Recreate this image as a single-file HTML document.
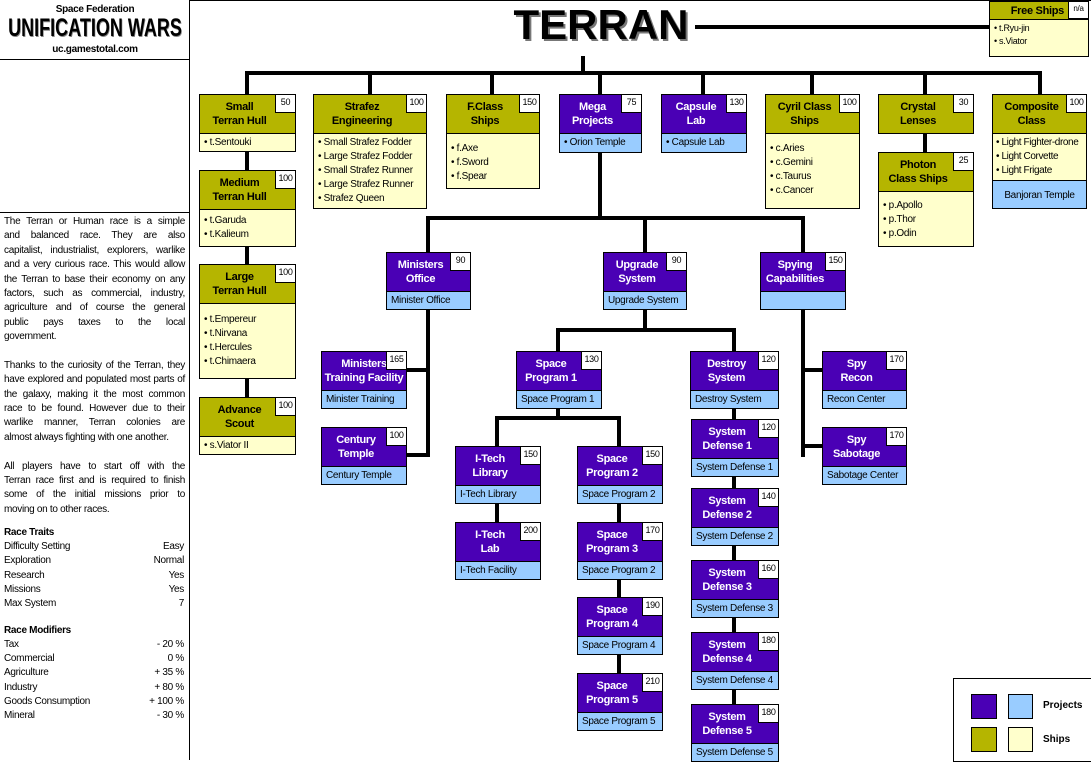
<!DOCTYPE html>
<html><head><meta charset="utf-8"><style>
*{margin:0;padding:0;box-sizing:border-box}
body{width:1091px;height:760px;position:relative;background:#fff;font-family:"Liberation Sans",Arial,sans-serif;overflow:hidden;color:#000}
.a{position:absolute}
.l{position:absolute;background:#000}
.n{position:absolute;border:1px solid #000}
.n.s{background:#ffffcc}
.n.p{background:#99ccff}
.h{position:relative;display:flex;align-items:center;justify-content:center;text-align:center;font-weight:bold;font-size:11px;line-height:14px;letter-spacing:-0.3px;padding-right:16px;border-bottom:1px solid #000}
.p .h{background:#4a00b5;color:#fff}
.s .h{background:#b5b500;color:#000}
.num{position:absolute;right:0;top:0;width:20px;height:18px;background:#fff;color:#000;border-left:1px solid #000;border-bottom:1px solid #000;font-size:9px;font-weight:normal;text-align:center;line-height:14px;padding:0}
.b{font-size:10px;line-height:14px;padding:2px 4px;letter-spacing:-0.3px}
.bl{background:#99ccff!important}
.row{position:absolute;left:4px;width:180px;font-size:10px;letter-spacing:-0.3px;height:14px;line-height:14px}
.row span{position:absolute;right:0}
.par{position:absolute;left:4px;top:215px;width:181px;font-size:10px;letter-spacing:-0.3px;line-height:14.4px}
.par div{text-align:justify;text-align-last:justify;white-space:nowrap;height:14.4px}
.par div.e{text-align-last:left}
</style></head><body>
<!-- left panel -->
<div class="l" style="left:189px;top:0;width:1px;height:760px"></div>
<div class="l" style="left:0;top:59px;width:190px;height:1px"></div>
<div class="l" style="left:0;top:212px;width:190px;height:1px"></div>
<div class="l" style="left:190px;top:0;width:901px;height:1px"></div>
<div class="a" style="left:0;top:4px;width:190px;text-align:center;font-size:10px;font-weight:bold;letter-spacing:-0.3px">Space Federation</div>
<div class="a" style="left:-30px;top:14px;width:250px;text-align:center;font-size:25px;font-weight:bold;transform:scaleX(0.72);text-shadow:1px 1px 0 #888">UNIFICATION WARS</div>
<div class="a" style="left:0;top:44px;width:190px;text-align:center;font-size:10px;font-weight:bold;letter-spacing:-0.3px">uc.gamestotal.com</div>
<div class="par">
<div>The Terran or Human race is a simple</div>
<div>and balanced race. They are also</div>
<div>capitalist, industrialist, explorers, warlike</div>
<div>and a very curious race. This would allow</div>
<div>the Terran to base their economy on any</div>
<div>factors, such as commercial, industry,</div>
<div>agriculture and of course the general</div>
<div>public pays taxes to the local</div>
<div class="e">government.</div>
<div class="e"></div>
<div>Thanks to the curiosity of the Terran, they</div>
<div>have explored and populated most parts of</div>
<div>the galaxy, making it the most common</div>
<div>race to be found. However due to their</div>
<div>warlike manner, Terran colonies are</div>
<div class="e">almost always fighting with one another.</div>
<div class="e"></div>
<div>All players have to start off with the</div>
<div>Terran race first and is required to finish</div>
<div>some of the initial missions prior to</div>
<div class="e">moving on to other races.</div>
</div>
<div class="row" style="top:526px;font-weight:bold">Race Traits</div>
<div class="row" style="top:540px">Difficulty Setting<span>Easy</span></div>
<div class="row" style="top:554px">Exploration<span>Normal</span></div>
<div class="row" style="top:569px">Research<span>Yes</span></div>
<div class="row" style="top:583px">Missions<span>Yes</span></div>
<div class="row" style="top:597px">Max System<span>7</span></div>
<div class="row" style="top:624px;font-weight:bold">Race Modifiers</div>
<div class="row" style="top:638px">Tax<span>- 20 %</span></div>
<div class="row" style="top:652px">Commercial<span>0 %</span></div>
<div class="row" style="top:666px">Agriculture<span>+ 35 %</span></div>
<div class="row" style="top:681px">Industry<span>+ 80 %</span></div>
<div class="row" style="top:695px">Goods Consumption<span>+ 100 %</span></div>
<div class="row" style="top:709px">Mineral<span>- 30 %</span></div>

<!-- title -->
<div class="a" style="left:505px;top:1px;width:192px;text-align:center;font-size:42px;font-weight:bold;letter-spacing:0px;text-shadow:2px 2px 0 #777">TERRAN</div>

<!-- connectors -->
<div class="l" style="left:695px;top:25px;width:294px;height:4px"></div>
<div class="l" style="left:581px;top:56px;width:4px;height:19px"></div>
<div class="l" style="left:245px;top:71px;width:797px;height:4px"></div>
<div class="l" style="left:245px;top:71px;width:4px;height:24px"></div>
<div class="l" style="left:368px;top:71px;width:4px;height:24px"></div>
<div class="l" style="left:490px;top:71px;width:4px;height:24px"></div>
<div class="l" style="left:598px;top:71px;width:4px;height:24px"></div>
<div class="l" style="left:701px;top:71px;width:4px;height:24px"></div>
<div class="l" style="left:810px;top:71px;width:4px;height:24px"></div>
<div class="l" style="left:923px;top:71px;width:4px;height:24px"></div>
<div class="l" style="left:1038px;top:71px;width:4px;height:24px"></div>
<div class="l" style="left:245px;top:150px;width:4px;height:248px"></div>
<div class="l" style="left:923px;top:132px;width:4px;height:21px"></div>
<div class="l" style="left:598px;top:151px;width:4px;height:69px"></div>
<div class="l" style="left:426px;top:216px;width:379px;height:4px"></div>
<div class="l" style="left:426px;top:216px;width:4px;height:37px"></div>
<div class="l" style="left:643px;top:216px;width:4px;height:37px"></div>
<div class="l" style="left:801px;top:216px;width:4px;height:37px"></div>
<div class="l" style="left:426px;top:308px;width:4px;height:149px"></div>
<div class="l" style="left:405px;top:368px;width:24px;height:4px"></div>
<div class="l" style="left:405px;top:453px;width:24px;height:4px"></div>
<div class="l" style="left:643px;top:308px;width:4px;height:24px"></div>
<div class="l" style="left:556px;top:328px;width:180px;height:4px"></div>
<div class="l" style="left:556px;top:328px;width:4px;height:24px"></div>
<div class="l" style="left:732px;top:328px;width:4px;height:24px"></div>
<div class="l" style="left:801px;top:308px;width:4px;height:149px"></div>
<div class="l" style="left:801px;top:368px;width:22px;height:4px"></div>
<div class="l" style="left:801px;top:444px;width:22px;height:4px"></div>
<div class="l" style="left:556px;top:407px;width:4px;height:12px"></div>
<div class="l" style="left:495px;top:416px;width:126px;height:4px"></div>
<div class="l" style="left:495px;top:416px;width:4px;height:31px"></div>
<div class="l" style="left:617px;top:416px;width:4px;height:31px"></div>
<div class="l" style="left:495px;top:502px;width:4px;height:21px"></div>
<div class="l" style="left:617px;top:502px;width:4px;height:172px"></div>
<div class="l" style="left:732px;top:407px;width:4px;height:300px"></div>

<!-- Free ships -->
<div class="n s" style="left:989px;top:1px;width:100px;height:56px"><div class="h" style="height:18px;justify-content:flex-end;padding-right:24px">Free Ships<div class="num" style="height:17px;font-size:8px">n/a</div></div><div class="b" style="font-size:9px;line-height:13px">• t.Ryu-jin<br>• s.Viator</div></div>

<!-- row 1 -->
<div class="n s" style="left:199px;top:94px;width:97px;height:58px"><div class="h" style="height:39px">Small<br>Terran Hull<div class="num">50</div></div><div class="b">• t.Sentouki</div></div>
<div class="n s" style="left:313px;top:94px;width:114px;height:115px"><div class="h" style="height:39px">Strafez<br>Engineering<div class="num">100</div></div><div class="b">• Small Strafez Fodder<br>• Large Strafez Fodder<br>• Small Strafez Runner<br>• Large Strafez Runner<br>• Strafez Queen</div></div>
<div class="n s" style="left:446px;top:94px;width:94px;height:95px"><div class="h" style="height:39px">F.Class<br>Ships<div class="num">150</div></div><div class="b" style="padding-top:8px">• f.Axe<br>• f.Sword<br>• f.Spear</div></div>
<div class="n p" style="left:559px;top:94px;width:83px;height:59px"><div class="h" style="height:39px">Mega<br>Projects<div class="num">75</div></div><div class="b">• Orion Temple</div></div>
<div class="n p" style="left:661px;top:94px;width:86px;height:59px"><div class="h" style="height:39px">Capsule<br>Lab<div class="num">130</div></div><div class="b">• Capsule Lab</div></div>
<div class="n s" style="left:765px;top:94px;width:95px;height:115px"><div class="h" style="height:39px">Cyril Class<br>Ships<div class="num">100</div></div><div class="b" style="padding-top:8px">• c.Aries<br>• c.Gemini<br>• c.Taurus<br>• c.Cancer</div></div>
<div class="n s" style="left:878px;top:94px;width:96px;height:40px"><div class="h" style="height:38px;border-bottom:0">Crystal<br>Lenses<div class="num">30</div></div></div>
<div class="n s" style="left:878px;top:152px;width:96px;height:95px"><div class="h" style="height:39px">Photon<br>Class Ships<div class="num">25</div></div><div class="b" style="padding-top:7px">• p.Apollo<br>• p.Thor<br>• p.Odin</div></div>
<div class="n s" style="left:992px;top:94px;width:95px;height:115px"><div class="h" style="height:39px">Composite<br>Class<div class="num">100</div></div><div class="b" style="padding:2px 3px;letter-spacing:-0.4px;height:46px">• Light Fighter-drone<br>• Light Corvette<br>• Light Frigate</div><div class="b bl" style="border-top:1px solid #000;height:28px;line-height:26px;text-align:center">Banjoran Temple</div></div>

<!-- left stack -->
<div class="n s" style="left:199px;top:170px;width:97px;height:77px"><div class="h" style="height:39px">Medium<br>Terran Hull<div class="num">100</div></div><div class="b" style="padding-top:4px">• t.Garuda<br>• t.Kalieum</div></div>
<div class="n s" style="left:199px;top:264px;width:97px;height:115px"><div class="h" style="height:39px">Large<br>Terran Hull<div class="num">100</div></div><div class="b" style="padding-top:9px">• t.Empereur<br>• t.Nirvana<br>• t.Hercules<br>• t.Chimaera</div></div>
<div class="n s" style="left:199px;top:397px;width:97px;height:58px"><div class="h" style="height:39px">Advance<br>Scout<div class="num">100</div></div><div class="b">• s.Viator II</div></div>

<!-- projects -->
<div class="n p" style="left:386px;top:252px;width:85px;height:58px"><div class="h" style="height:39px">Ministers<br>Office<div class="num">90</div></div><div class="b">Minister Office</div></div>
<div class="n p" style="left:603px;top:252px;width:84px;height:58px"><div class="h" style="height:39px">Upgrade<br>System<div class="num">90</div></div><div class="b">Upgrade System</div></div>
<div class="n p" style="left:760px;top:252px;width:86px;height:58px"><div class="h" style="height:39px">Spying<br>Capabilities<div class="num">150</div></div><div class="b">&nbsp;</div></div>
<div class="n p" style="left:321px;top:351px;width:86px;height:58px"><div class="h" style="height:39px;padding-right:0;white-space:nowrap">Ministers<br>Training Facility<div class="num">165</div></div><div class="b">Minister Training</div></div>
<div class="n p" style="left:321px;top:427px;width:86px;height:58px"><div class="h" style="height:39px">Century<br>Temple<div class="num">100</div></div><div class="b">Century Temple</div></div>
<div class="n p" style="left:516px;top:351px;width:86px;height:58px"><div class="h" style="height:39px">Space<br>Program 1<div class="num">130</div></div><div class="b">Space Program 1</div></div>
<div class="n p" style="left:690px;top:351px;width:89px;height:58px"><div class="h" style="height:39px">Destroy<br>System<div class="num">120</div></div><div class="b">Destroy System</div></div>
<div class="n p" style="left:822px;top:351px;width:85px;height:58px"><div class="h" style="height:39px">Spy<br>Recon<div class="num">170</div></div><div class="b">Recon Center</div></div>
<div class="n p" style="left:822px;top:427px;width:85px;height:58px"><div class="h" style="height:39px">Spy<br>Sabotage<div class="num">170</div></div><div class="b">Sabotage Center</div></div>
<div class="n p" style="left:455px;top:446px;width:86px;height:58px"><div class="h" style="height:39px">I-Tech<br>Library<div class="num">150</div></div><div class="b">I-Tech Library</div></div>
<div class="n p" style="left:455px;top:522px;width:86px;height:58px"><div class="h" style="height:39px">I-Tech<br>Lab<div class="num">200</div></div><div class="b">I-Tech Facility</div></div>
<div class="n p" style="left:577px;top:446px;width:86px;height:58px"><div class="h" style="height:39px">Space<br>Program 2<div class="num">150</div></div><div class="b">Space Program 2</div></div>
<div class="n p" style="left:577px;top:522px;width:86px;height:58px"><div class="h" style="height:39px">Space<br>Program 3<div class="num">170</div></div><div class="b">Space Program 2</div></div>
<div class="n p" style="left:577px;top:597px;width:86px;height:58px"><div class="h" style="height:39px">Space<br>Program 4<div class="num">190</div></div><div class="b">Space Program 4</div></div>
<div class="n p" style="left:577px;top:673px;width:86px;height:58px"><div class="h" style="height:39px">Space<br>Program 5<div class="num">210</div></div><div class="b">Space Program 5</div></div>
<div class="n p" style="left:691px;top:419px;width:88px;height:58px"><div class="h" style="height:39px">System<br>Defense 1<div class="num">120</div></div><div class="b">System Defense 1</div></div>
<div class="n p" style="left:691px;top:488px;width:88px;height:58px"><div class="h" style="height:39px">System<br>Defense 2<div class="num">140</div></div><div class="b">System Defense 2</div></div>
<div class="n p" style="left:691px;top:560px;width:88px;height:58px"><div class="h" style="height:39px">System<br>Defense 3<div class="num">160</div></div><div class="b">System Defense 3</div></div>
<div class="n p" style="left:691px;top:632px;width:88px;height:58px"><div class="h" style="height:39px">System<br>Defense 4<div class="num">180</div></div><div class="b">System Defense 4</div></div>
<div class="n p" style="left:691px;top:704px;width:88px;height:58px"><div class="h" style="height:39px">System<br>Defense 5<div class="num">180</div></div><div class="b">System Defense 5</div></div>

<!-- legend -->
<div class="a" style="left:953px;top:678px;width:140px;height:84px;border:1px solid #000"></div>
<div class="a" style="left:971px;top:694px;width:26px;height:25px;background:#4a00b5;border:1px solid #000"></div>
<div class="a" style="left:1008px;top:694px;width:25px;height:25px;background:#99ccff;border:1px solid #000"></div>
<div class="a" style="left:971px;top:727px;width:26px;height:25px;background:#b5b500;border:1px solid #000"></div>
<div class="a" style="left:1008px;top:727px;width:25px;height:25px;background:#ffffcc;border:1px solid #000"></div>
<div class="a" style="left:1043px;top:700px;font-size:10px;font-weight:bold">Projects</div>
<div class="a" style="left:1043px;top:734px;font-size:10px;font-weight:bold">Ships</div>
</body></html>
